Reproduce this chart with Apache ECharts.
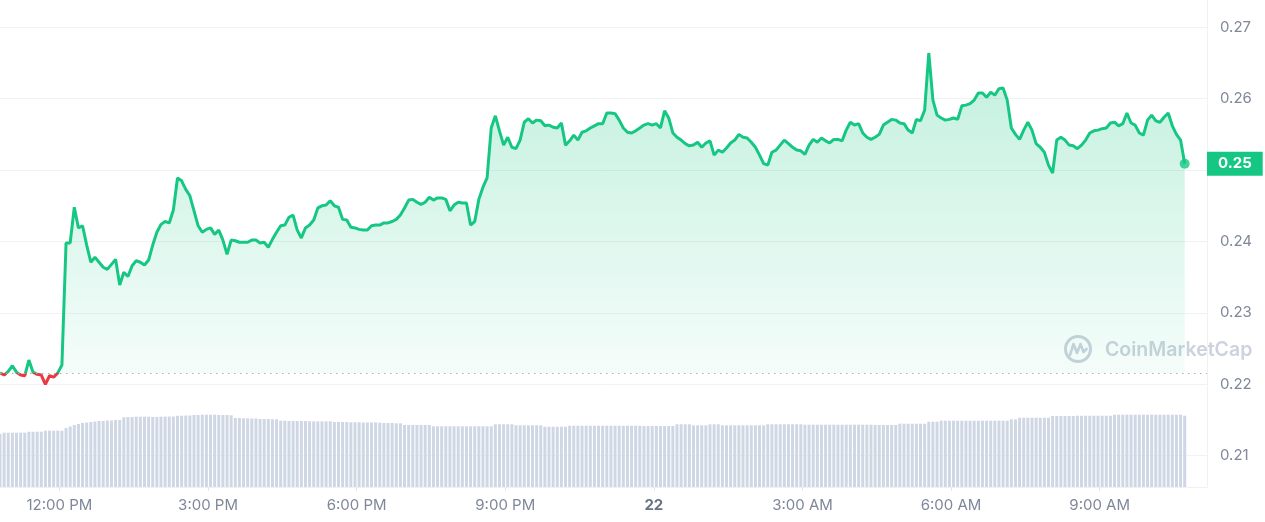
<!DOCTYPE html>
<html>
<head>
<meta charset="utf-8">
<script src="https://cdn.jsdelivr.net/npm/echarts@6/dist/echarts.min.js"></script>
<style>
html,body{margin:0;padding:0;background:#fff;}
#chart{width:1265px;height:522px;}
</style>
</head>
<body>
<div id="chart"></div>
<script>
// ---- data (5-minute steps, minutes since 00:00 of day 21) ----
const startMinute = 648;   // 10:48 AM
const stepMinutes = 5;

const prices = [
0.2216,0.2213,0.2218,0.2226,0.2217,0.2213,0.2212,0.2234,0.2217,0.2214,
0.2213,0.2200,0.2212,0.2210,0.2216,0.2227,0.2398,0.2398,0.2448,0.2419,
0.2422,0.2395,0.2371,0.2378,0.2371,0.2364,0.2361,0.2368,0.2375,0.2339,
0.2357,0.2351,0.2366,0.2373,0.2371,0.2367,0.2374,0.2395,0.2413,0.2424,
0.2428,0.2426,0.2444,0.2489,0.2485,0.2473,0.2464,0.2443,0.2422,0.2413,
0.2417,0.2419,0.2410,0.2416,0.2402,0.2382,0.2402,0.2401,0.2399,0.2399,
0.2399,0.2402,0.2402,0.2398,0.2399,0.2392,0.2403,0.2413,0.2422,0.2423,
0.2434,0.2437,0.2416,0.2405,0.2419,0.2423,0.2430,0.2447,0.2450,0.2451,
0.2457,0.2450,0.2448,0.2431,0.2430,0.2420,0.2419,0.2417,0.2416,0.2416,
0.2422,0.2423,0.2423,0.2426,0.2426,0.2428,0.2431,0.2437,0.2447,0.2458,
0.2459,0.2455,0.2452,0.2455,0.2462,0.2458,0.2461,0.2461,0.2459,0.2443,
0.2451,0.2455,0.2454,0.2454,0.2423,0.2428,0.2459,0.2476,0.2489,0.2559,
0.2576,0.2555,0.2535,0.2546,0.2532,0.2530,0.2542,0.2567,0.2572,0.2566,
0.2570,0.2569,0.2562,0.2563,0.2560,0.2559,0.2566,0.2535,0.2541,0.2549,
0.2542,0.2553,0.2555,0.2559,0.2562,0.2565,0.2565,0.2580,0.2580,0.2579,
0.2570,0.2559,0.2553,0.2552,0.2555,0.2559,0.2563,0.2565,0.2563,0.2565,
0.2559,0.2583,0.2573,0.2552,0.2546,0.2542,0.2537,0.2534,0.2535,0.2539,
0.2532,0.2538,0.2541,0.2521,0.2528,0.2525,0.2531,0.2538,0.2542,0.2550,
0.2546,0.2545,0.2539,0.2532,0.2521,0.2509,0.2507,0.2525,0.2528,0.2535,
0.2542,0.2537,0.2532,0.2528,0.2527,0.2522,0.2535,0.2543,0.2539,0.2545,
0.2541,0.2538,0.2543,0.2543,0.2541,0.2556,0.2567,0.2563,0.2565,0.2552,
0.2546,0.2543,0.2546,0.2550,0.2563,0.2567,0.2571,0.2570,0.2566,0.2565,
0.2556,0.2552,0.2571,0.2569,0.2584,0.2664,0.2598,0.2577,0.2573,0.2570,
0.2571,0.2573,0.2571,0.2590,0.2591,0.2593,0.2598,0.2608,0.2608,0.2602,
0.2609,0.2605,0.2614,0.2615,0.2598,0.2559,0.2550,0.2543,0.2556,0.2567,
0.2556,0.2537,0.2532,0.2525,0.2507,0.2496,0.2542,0.2546,0.2542,0.2535,
0.2534,0.2530,0.2535,0.2542,0.2552,0.2555,0.2556,0.2558,0.2559,0.2566,
0.2567,0.2562,0.2565,0.2580,0.2566,0.2563,0.2552,0.2549,0.2570,0.2577,
0.2569,0.2567,0.2574,0.2580,0.2562,0.2550,0.2542,0.2509
];

// rolling 24h volume (relative units)
const volumes = [
53,54.3,54.3,54.3,54.3,54.3,54.3,55.3,55.3,55.3,
55.3,56.3,56.3,56.3,56.3,56.3,59,60.5,62,63,
64,64.5,65,65.5,66,66,66.5,66.5,67,67,
69.7,70,70,70.3,70.3,70.3,70.3,70,70,70.3,
70.5,70.5,70.5,71.3,71.3,71.5,71.5,72,72,72.3,
72.3,72.3,72.3,72,72,72,71.7,69,69,68.7,
68.7,68.5,68.5,68,68,68,67.7,67.7,66.3,66.3,
66,66,66,66,66,65.7,65.7,65.7,65.7,65.7,
65.7,65,65,65,65,64.7,64.7,64.7,64.5,64.5,
64.5,64.5,64.3,64,64,64,63.7,63.7,62,62,
62,62,62,62,62,60.7,60.7,60.7,60.7,60.7,
60.7,60.7,60.7,60.7,60.7,60.7,60.7,60.7,60.7,60.7,
62.7,62.7,62.7,62.7,62.7,61.7,61.7,61.7,61.7,61.7,
61.7,61.7,60.3,60.3,60.3,60.3,60.3,60.3,61.3,61.3,
61.3,61.3,61.3,61.3,61.3,61.3,61.3,61.3,61.3,61.3,
61.3,61.3,61.3,61.3,61.3,61.3,61,61,61,61,
61,61,61,61,62.7,62.7,62.7,62.7,61.7,61.7,
61.7,61.7,62.7,62.7,62.7,61.7,61.7,61.7,61.7,61.7,
61.7,61.7,61.7,61.7,61.7,61.7,62.7,62.7,62.7,62.7,
62.7,62.7,62.7,62.7,62.7,62.3,62.3,62.3,62.3,62.3,
62.3,62.3,62.3,62.3,62.3,62.3,62.3,62.3,62.3,62.3,
62.3,62.3,62,62,62,62,62,62,63.3,63.3,
63.3,63.3,63.3,63.3,63.3,65.3,65.3,65.3,66.3,66.3,
66.3,66.3,66.3,66.3,66.3,66.3,66.3,66.3,66.3,66.3,
66.3,66.3,66.3,66.3,66.3,67.7,67.7,69.3,69.3,69.3,
69.3,69.3,69.3,69.3,69.3,71,71,71,71,71,
71,71.3,71.3,71.3,71.3,71.3,71.3,71.3,71.3,71.3,
72.3,72.3,72.3,72.3,72.3,72.3,72.3,72.3,72.3,72.3,
72.3,72.3,72.3,72.3,72.3,72.3,72.3,71.3
];

const xTickMinutes = [720, 900, 1080, 1260, 1440, 1620, 1800, 1980];
const dayLabel = '22';

// ---- build ----
const GREEN = '#16c784', RED = '#ea3943';
const times = prices.map((_, i) => startMinute + i * stepMinutes);
const priceData = prices.map((v, i) => [times[i], v]);
const volData = volumes.map((v, i) => [times[i], v]);
const basePrice = prices[0];
const lastIdx = prices.length - 1;

function fmtTime(m) {
  if (m % 1440 === 0) return '{b|' + dayLabel + '}';
  const h24 = Math.floor(m / 60) % 24;
  const mm = m % 60;
  const ap = h24 >= 12 ? 'PM' : 'AM';
  let h = h24 % 12; if (h === 0) h = 12;
  return h + ':' + (mm < 10 ? '0' : '') + mm + ' ' + ap;
}

const chart = echarts.init(document.getElementById('chart'), null, {renderer: 'canvas'});
const FONT = 'Inter, "Noto Sans", sans-serif';
chart.setOption({
  animation: false,
  backgroundColor: '#ffffff',
  textStyle: {fontFamily: FONT},
  grid: {left: 0, right: 58, top: 0, bottom: 35, containLabel: false},
  xAxis: {
    type: 'value',
    min: 648, max: 2110,
    axisLine: {show: true, lineStyle: {color: '#eff1f4', width: 1}},
    axisTick: {show: true, customValues: xTickMinutes, length: 4, lineStyle: {color: '#e2e5ea'}},
    splitLine: {show: false},
    axisLabel: {
      customValues: xTickMinutes,
      formatter: fmtTime,
      color: '#7f879a', fontSize: 15, margin: 11, fontFamily: FONT,
      rich: {b: {fontWeight: 'bold', color: '#677185', fontSize: 15, fontFamily: FONT}}
    }
  },
  yAxis: [{
    type: 'value',
    position: 'right',
    min: 0.20562, max: 0.27382,
    splitNumber: 6,
    axisLine: {show: true, lineStyle: {color: '#eff1f4'}},
    axisTick: {show: false},
    splitLine: {show: true, showMaxLine: false, lineStyle: {color: '#f1f2f4'}},
    axisLabel: {
      showMinLabel: false, showMaxLabel: false,
      formatter: v => v.toFixed(2),
      color: '#7f879a', fontSize: 15, margin: 13, fontFamily: FONT
    }
  }, {
    type: 'value', show: false, min: 0, max: 487,
    splitLine: {show: false}
  }],
  visualMap: {
    show: false, type: 'piecewise', seriesIndex: 1, dimension: 1,
    pieces: [
      {gte: 0, lt: basePrice, color: RED},
      {gte: basePrice, lte: 1, color: GREEN}
    ]
  },
  graphic: [{
    type: 'group', silent: true, z: 1,
    children: [
      {type: 'circle', shape: {cx: 1078, cy: 349, r: 12.5}, style: {fill: 'none', stroke: '#ccd2de', lineWidth: 3}},
      {type: 'polyline', shape: {points: [[1070, 355], [1073.5, 344], [1077, 353], [1080.5, 344], [1083.5, 352], [1086.5, 349]]},
       style: {fill: 'none', stroke: '#ccd2de', lineWidth: 2.6, lineJoin: 'round', lineCap: 'round'}},
      {type: 'text', style: {x: 1105, y: 350, text: 'CoinMarketCap', font: '600 19.5px ' + FONT, fill: '#ccd2de', textVerticalAlign: 'middle'}}
    ]
  }],
  series: [{
    type: 'bar',
    name: 'Volume',
    xAxisIndex: 0, yAxisIndex: 1,
    data: volData,
    barWidth: 3,
    itemStyle: {color: '#cfd6e4'},
    silent: true, z: 1
  }, {
    type: 'line',
    name: 'Price',
    data: priceData,
    showSymbol: false,
    lineStyle: {width: 3},
    areaStyle: {
      origin: basePrice,
      color: new echarts.graphic.LinearGradient(0, 0, 0, 1, [
        {offset: 0, color: 'rgba(22,199,132,0.38)'},
        {offset: 1, color: 'rgba(22,199,132,0.05)'}
      ])
    },
    z: 3,
    markLine: {
      silent: true,
      precision: 4,
      symbol: ['none', 'none'],
      z: 10,
      data: [
        {yAxis: basePrice, lineStyle: {type: [1.5, 4.5], color: '#a9afbb', width: 1}, label: {show: false}},
        {yAxis: prices[lastIdx], lineStyle: {color: 'rgba(0,0,0,0)', width: 0},
         label: {show: true, position: 'end', distance: 0, formatter: p => p.value.toFixed(2),
                 backgroundColor: GREEN, color: '#fff', fontSize: 15, fontWeight: 'bold',
                 padding: [5, 11, 4, 11], fontFamily: FONT}}
      ]
    }
  }, {
    type: 'scatter',
    name: 'Last',
    data: [priceData[lastIdx]],
    symbolSize: 10,
    itemStyle: {color: GREEN},
    z: 5, silent: true
  }]
});
</script>
</body>
</html>
